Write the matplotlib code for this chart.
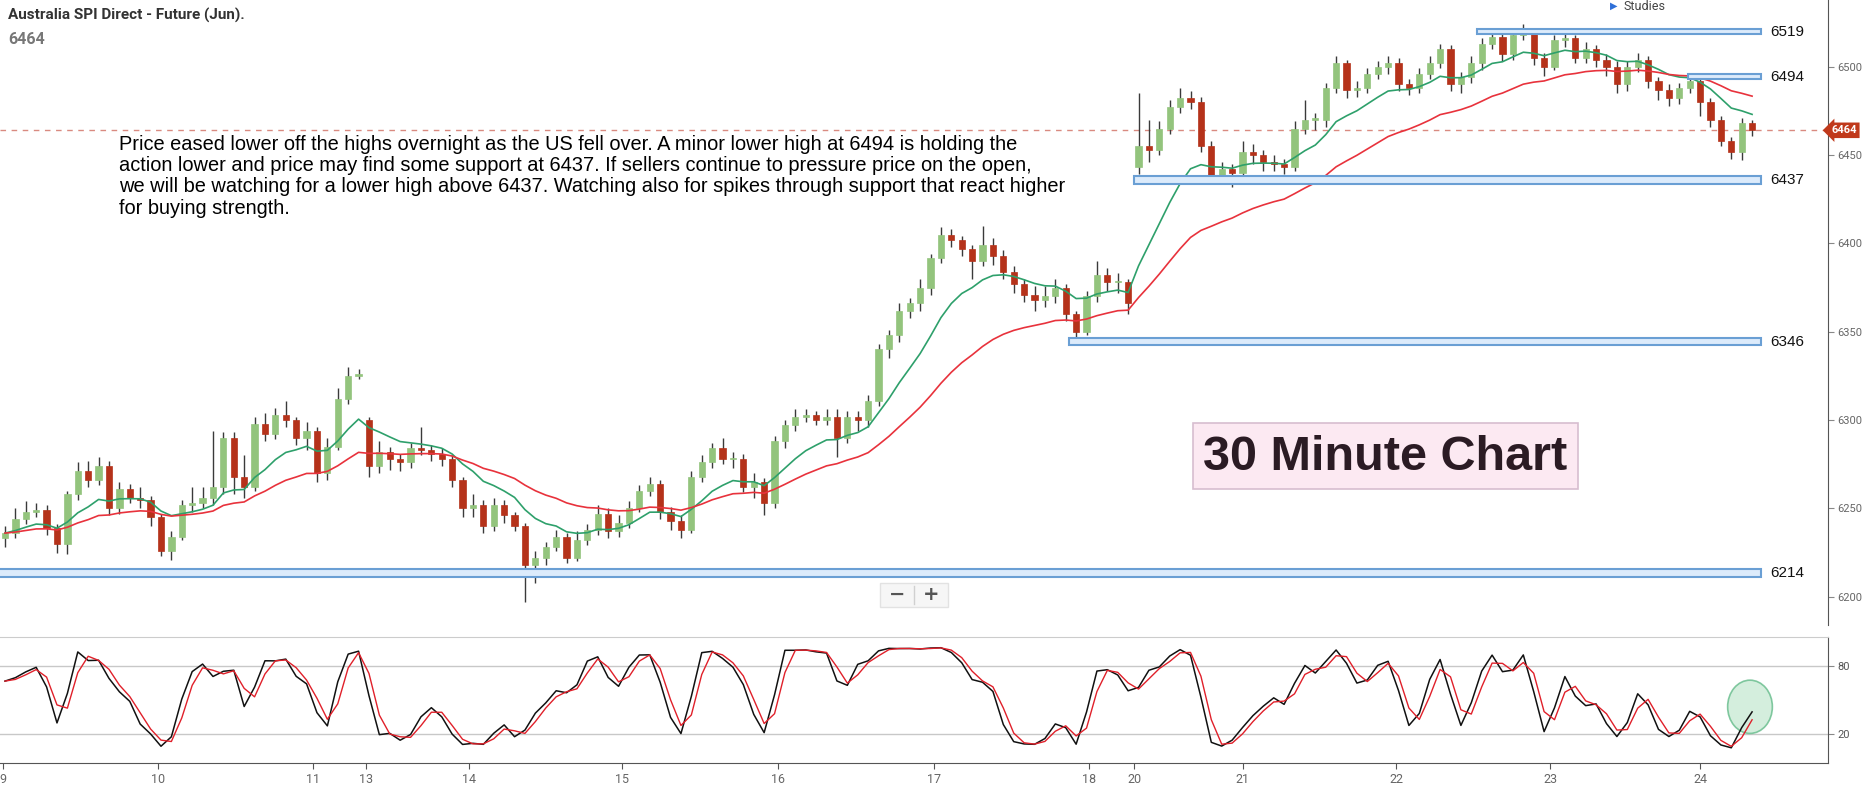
import matplotlib
matplotlib.use("Agg")
import matplotlib.pyplot as plt
import matplotlib.transforms as mtransforms
from matplotlib.patches import Rectangle, Ellipse
import numpy as np
import pandas as pd

# hourly bars (roughly every second candle)
closes = [6236, 6244, 6248, 6249, 6239, 6230, 6258, 6271, 6266, 6274,
          6250, 6261, 6256, 6255, 6245, 6226, 6234, 6252, 6253, 6256,
          6262, 6290, 6268, 6262, 6298, 6292, 6303, 6300, 6290, 6294,
          6270, 6285, 6312, 6325, 6326, 6274, 6282, 6278, 6276, 6284,
          6283, 6281, 6278, 6266, 6250, 6252, 6240, 6252, 6246, 6240,
          6218, 6222, 6228, 6234, 6222, 6232, 6238, 6247, 6237, 6242,
          6250, 6260, 6264, 6248, 6243, 6238, 6268, 6276, 6284, 6278,
          6278, 6262, 6265, 6253, 6288, 6297, 6302, 6303, 6300, 6302,
          6290, 6302, 6300, 6311, 6340, 6348, 6362, 6366, 6375, 6392,
          6405, 6402, 6397, 6390, 6399, 6393, 6384, 6377, 6371, 6368,
          6370, 6375, 6360, 6350, 6370, 6382, 6378, 6378, 6366, 6455,
          6453, 6465, 6477, 6482, 6480, 6455, 6438, 6442, 6440, 6452,
          6450, 6446, 6445, 6443, 6465, 6470, 6470, 6488, 6502, 6487,
          6488, 6496, 6500, 6502, 6490, 6488, 6496, 6502, 6510, 6490,
          6494, 6502, 6513, 6517, 6507, 6518, 6520, 6505, 6500, 6515,
          6516, 6505, 6510, 6504, 6500, 6490, 6500, 6504, 6492, 6487,
          6482, 6488, 6492, 6480, 6470, 6458, 6452, 6468, 6464]
highs = [6240, 6250, 6254, 6253, 6252, 6241, 6260, 6276, 6277, 6279,
         6277, 6265, 6264, 6262, 6257, 6247, 6237, 6255, 6262, 6262,
         6294, 6293, 6293, 6280, 6302, 6304, 6307, 6311, 6302, 6299,
         6296, 6290, 6318, 6330, 6329, 6302, 6288, 6285, 6281, 6287,
         6296, 6286, 6284, 6280, 6268, 6258, 6255, 6256, 6255, 6248,
         6242, 6226, 6231, 6238, 6236, 6237, 6241, 6252, 6250, 6246,
         6254, 6263, 6268, 6266, 6251, 6246, 6271, 6280, 6287, 6290,
         6282, 6281, 6270, 6267, 6291, 6300, 6306, 6306, 6305, 6306,
         6306, 6305, 6305, 6314, 6343, 6351, 6366, 6369, 6380, 6394,
         6409, 6408, 6404, 6399, 6410, 6403, 6396, 6387, 6380, 6376,
         6376, 6380, 6377, 6362, 6373, 6390, 6386, 6383, 6380, 6485,
         6470, 6469, 6481, 6488, 6486, 6483, 6458, 6446, 6445, 6458,
         6456, 6453, 6450, 6448, 6469, 6481, 6474, 6491, 6506, 6504,
         6492, 6499, 6503, 6506, 6505, 6493, 6499, 6506, 6513, 6512,
         6497, 6506, 6516, 6521, 6519, 6521, 6524, 6522, 6508, 6518,
         6519, 6518, 6514, 6512, 6507, 6503, 6503, 6508, 6506, 6494,
         6490, 6491, 6496, 6494, 6482, 6472, 6460, 6471, 6470]
lows = [6228, 6233, 6241, 6245, 6235, 6225, 6224, 6255, 6262, 6263,
        6246, 6247, 6253, 6250, 6240, 6223, 6221, 6232, 6248, 6250,
        6252, 6258, 6258, 6256, 6260, 6288, 6289, 6296, 6286, 6283,
        6265, 6266, 6283, 6309, 6323, 6268, 6270, 6272, 6271, 6273,
        6280, 6277, 6274, 6262, 6245, 6245, 6236, 6237, 6242, 6237,
        6197, 6208, 6218, 6226, 6219, 6220, 6229, 6235, 6233, 6234,
        6239, 6248, 6257, 6244, 6238, 6233, 6236, 6265, 6273, 6275,
        6273, 6259, 6256, 6246, 6250, 6284, 6294, 6299, 6297, 6297,
        6279, 6287, 6294, 6296, 6308, 6335, 6344, 6358, 6362, 6371,
        6389, 6398, 6393, 6380, 6387, 6388, 6380, 6372, 6367, 6362,
        6364, 6366, 6356, 6347, 6348, 6367, 6373, 6372, 6360, 6439,
        6446, 6450, 6462, 6474, 6476, 6452, 6436, 6434, 6432, 6438,
        6445, 6441, 6441, 6439, 6441, 6462, 6464, 6466, 6485, 6482,
        6483, 6485, 6493, 6496, 6486, 6484, 6485, 6493, 6499, 6486,
        6485, 6491, 6498, 6510, 6503, 6504, 6515, 6501, 6495, 6498,
        6511, 6502, 6502, 6500, 6495, 6485, 6486, 6497, 6488, 6481,
        6478, 6479, 6485, 6472, 6466, 6455, 6448, 6447, 6461]
# bars that opened away from the previous close
gap_opens = {0: 6233, 35: 6300, 109: 6443}

day_labels = ["9", "10", "11", "13", "14", "15", "16", "17", "18", "20", "21", "22", "23", "24"]
day_pos = [-0.2, 14.7, 29.6, 34.7, 44.6, 59.3, 74.3, 89.3, 104.2, 108.6, 119.0, 133.8, 148.6, 163.0]

levels = [6519, 6494, 6437, 6346, 6214]
level_lo = [6518.3, 6492.8, 6433.6, 6342.4, 6211.2]
level_hi = [6521.3, 6495.9, 6438.1, 6346.4, 6215.7]
level_from = [141.5, 161.8, 108.6, 102.3, -1.0]
level_to = 168.9

last_price = 6464

note = ("Price eased lower off the highs overnight as the US fell over. A minor lower high at 6494 is holding the\n"
        "action lower and price may find some support at 6437. If sellers continue to pressure price on the open,\n"
        "we will be watching for a lower high above 6437. Watching also for spikes through support that react higher\n"
        "for buying strength.")

W, H = 1865, 795
fig = plt.figure(figsize=(W / 100, H / 100), dpi=100)


def fx(px):
    return px / W


def fy(py):
    return 1 - py / H


ax = fig.add_axes([0, fy(625), fx(1828), fy(0) - fy(625)])
ax2 = fig.add_axes([0, fy(763), fx(1828), fy(637) - fy(763)])

n = len(closes)
x = np.arange(n)
opens = [closes[0]] + closes[:-1]
for k, v in gap_opens.items():
    opens[k] = v
o = np.array(opens, float)
c = np.array(closes, float)
hi = np.maximum(np.array(highs, float), np.maximum(o, c))
lo = np.minimum(np.array(lows, float), np.minimum(o, c))

# candles
up = c >= o
body_col = np.where(up, "#93c47d", "#b5321a")
ax.vlines(x, lo, hi, color="#3a3a3a", lw=1.0, zorder=3)
ax.bar(x, np.maximum(np.abs(c - o), 0.8), bottom=np.minimum(o, c), width=0.6,
       color=body_col, edgecolor=body_col, lw=0.5, zorder=4)

# moving averages
s = pd.Series(c)
ema_fast = s.ewm(span=10, adjust=False).mean()
ema_slow = s.ewm(span=25, adjust=False).mean()
ax.plot(x, ema_fast, color="#2ea06b", lw=1.2, zorder=5)
ax.plot(x, ema_slow, color="#e8323c", lw=1.2, zorder=5)

# support / resistance boxes
for lv, lo_, hi_, x0 in zip(levels, level_lo, level_hi, level_from):
    ax.add_patch(Rectangle((x0, lo_), level_to - x0, hi_ - lo_, facecolor="#dcebfb",
                           edgecolor="#6a9fd4", lw=1.5, zorder=6))
    ax.text(level_to + 0.8, (lo_ + hi_) / 2, str(lv), fontsize=11, color="#111111",
            family="Liberation Sans", va="center", ha="left", zorder=7)

ax.axhline(last_price, color="#d98a80", lw=1.0, ls=(0, (4, 4)), zorder=2)

ax.set_xlim(-0.48, 175.3)
ax.set_ylim(6184.0, 6537.75)
for sp in ["top", "left", "bottom"]:
    ax.spines[sp].set_visible(False)
ax.spines["right"].set_color("#555555")
ax.yaxis.tick_right()
ax.set_yticks([6200, 6250, 6300, 6350, 6400, 6450, 6500])
ax.tick_params(axis="y", length=4, color="#888888", labelcolor="#666666",
               labelsize=8, pad=3)
for t in ax.get_yticklabels():
    t.set_family("Roboto")
ax.set_xticks([])

badge_tr = mtransforms.blended_transform_factory(ax.transAxes, ax.transData)
ax.text(1.0018, last_price, str(last_price), transform=badge_tr, fontsize=8,
        color="white", fontweight="bold", family="Roboto", va="center", ha="left",
        bbox=dict(boxstyle="larrow,pad=0.25", fc="#c0391b", ec="none"), clip_on=False, zorder=8)

# stochastic
hh = pd.Series(hi).rolling(6, min_periods=1).max()
ll = pd.Series(lo).rolling(6, min_periods=1).min()
fast_k = 100 * (s - ll) / (hh - ll)
slow_k = fast_k.rolling(2, min_periods=1).mean()
slow_d = slow_k.rolling(2, min_periods=1).mean()
ax2.plot(x, slow_k, color="#111111", lw=1.1, zorder=3)
ax2.plot(x, slow_d, color="#e0202a", lw=1.0, zorder=4)
ax2.axhline(80, color="#c8c8c8", lw=1.0, zorder=1)
ax2.axhline(20, color="#c8c8c8", lw=1.0, zorder=1)
ax2.set_xlim(-0.48, 175.3)
ax2.set_ylim(-5.6, 105.6)
ax2.spines["left"].set_visible(False)
ax2.spines["top"].set_color("#cccccc")
ax2.spines["right"].set_color("#555555")
ax2.spines["bottom"].set_color("#555555")
ax2.yaxis.tick_right()
ax2.set_yticks([20, 80])
ax2.tick_params(axis="y", length=4, color="#888888", labelcolor="#555555", labelsize=8, pad=3)
ax2.set_xticks(day_pos)
ax2.set_xticklabels(day_labels)
ax2.tick_params(axis="x", length=4, color="#555555", labelcolor="#666666", labelsize=9, pad=3)
for t in ax2.get_xticklabels() + ax2.get_yticklabels():
    t.set_family("Roboto")

ax2.add_patch(Ellipse((167.8, 44), 4.3, 47, facecolor="#cdebd7", edgecolor="#6cbf90",
                      lw=1.2, alpha=0.85, zorder=2))

# header and notes
fig.text(fx(8), fy(15), "Australia SPI Direct - Future (Jun).", fontsize=11, fontweight="bold",
         color="#333333", family="Roboto", va="center", ha="left")
fig.text(fx(8), fy(39), "6464", fontsize=11.5, fontweight="bold", color="#777777",
         family="Roboto", va="center", ha="left")
fig.text(fx(1610), fy(6), "\u25b6", fontsize=7, color="#2f6fd8", family="DejaVu Sans",
         va="center", ha="left")
fig.text(fx(1624), fy(6), "Studies", fontsize=9, color="#444444", family="Roboto",
         va="center", ha="left")

fig.text(fx(119), fy(135), note, fontsize=14.4, color="#000000", family="Liberation Sans",
         va="top", ha="left", linespacing=1.15)

fig.patches.append(Rectangle((fx(1193), fy(489)), fx(1578) - fx(1193), fy(423) - fy(489),
                             transform=fig.transFigure, facecolor="#fce9f2",
                             edgecolor="#d7bdd0", lw=1.2))
fig.text(fx(1385), fy(457), "30 Minute Chart", fontsize=35, fontweight="bold",
         color="#2b1b24", family="Liberation Sans", va="center", ha="center")

# zoom buttons
fig.patches.append(Rectangle((fx(880), fy(607)), fx(948) - fx(880), fy(583) - fy(607),
                             transform=fig.transFigure, facecolor="#f6f6f6",
                             edgecolor="#e2e2e2", lw=1.0))
fig.lines.append(plt.Line2D([fx(914), fx(914)], [fy(586), fy(604)], transform=fig.transFigure,
                            color="#d0d0d0", lw=1.0))
fig.text(fx(897), fy(594), "\u2212", fontsize=14, fontweight="bold", color="#555555",
         family="DejaVu Sans", va="center", ha="center")
fig.text(fx(931), fy(594), "+", fontsize=14, fontweight="bold", color="#555555",
         family="DejaVu Sans", va="center", ha="center")

fig.savefig("out.png", dpi=100)
